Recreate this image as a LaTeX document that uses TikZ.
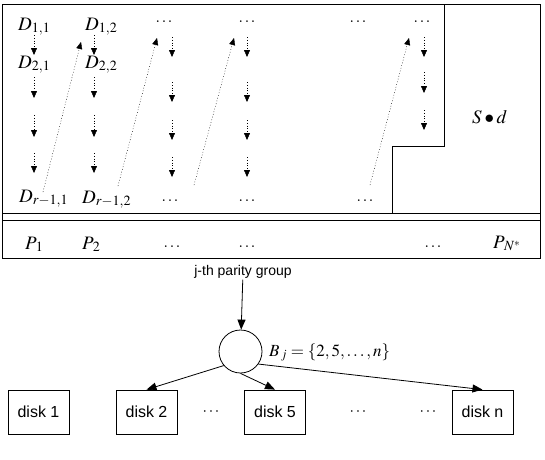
\documentclass[tikz,border=0pt]{standalone}
\usepackage{mathptmx}
\usepackage{fontspec}
\setmainfont{Liberation Serif}
\newfontfamily\arialfont{Liberation Sans}
\usetikzlibrary{arrows.meta}
\tikzset{
  lbl/.style={font=\fontsize{19}{22}\selectfont, inner sep=0pt, anchor=base west},
  dts/.style={font=\fontsize{16}{19}\selectfont, inner sep=0pt},
  dn/.style={dash pattern=on 0.8pt off 2pt, -{Triangle[width=6pt,length=7pt]}},
  disk/.style={draw, line width=0.8pt, minimum width=61pt, minimum height=44pt,
    font=\arialfont\fontsize{16}{19}\selectfont},
  arr/.style={line width=0.8pt, -{Triangle[width=8pt,length=10pt]}},
}
\begin{document}
\begin{tikzpicture}[x=1pt,y=-1pt]
\useasboundingbox (0,0) rectangle (545,459);
% frame of the parity group
\draw[line width=0.9pt] (2,4) rectangle (540,258);
\draw[line width=0.9pt] (2,213) -- (540,213);
\draw[line width=0.9pt] (2,220) -- (540,220);
\draw[line width=0.9pt] (444,4) -- (444,146) -- (392,146) -- (392,213);
% data blocks
\node[lbl] (D11) at (18,30) {$D_{1,1}$};
\node[lbl] (D12) at (85,30) {$D_{1,2}$};
\node[lbl] (D21) at (18,68) {$D_{2,1}$};
\node[lbl] (D22) at (85,68) {$D_{2,2}$};
\node[lbl] (Dr1) at (19,202) {$D_{r-1,1}$};
\node[lbl] (Dr2) at (82,203) {$D_{r-1,2}$};
\foreach \x/\y [count=\i] in {164/22,247/22,358/22,422/22,170/201,247/201,365/201,172/247,247/247,433/247}
  \node[dts] (e\i) at (\x,\y) {$\ldots$};
% parity blocks
\node[lbl] (P1) at (25,249) {$P_{\,1}$};
\node[lbl] (P2) at (82,249) {$P_{\,2}$};
\node[lbl] (PN) at (493,248) {$P_{\,N^*}$};
\node[lbl] (Sd) at (472,123) {$S\bullet d$};
% vertical dotted arrows
\foreach \x/\ya/\yb [count=\i] in {
  34/35/55, 34/77/98, 34/115/137, 34/153/173,
  94/35/55, 94/77/98, 94/115/137, 94/153/173,
  172/37/57, 172/82/102, 172/120/140, 172/157/177,
  247/37/57, 247/82/102, 247/120/140, 247/157/177,
  424/37/57, 424/72/93, 424/110/130}
{
  \coordinate (s\i) at (\x,\ya);
  \coordinate (t\i) at (\x,\yb);
  \draw[dn] (s\i) -- (t\i);
}
% diagonal dotted arrows
\foreach \xa/\ya/\xb/\yb [count=\i] in {43/192/81/42, 118/186/157/38, 194/185/234/38, 370/185/409/38}
{
  \coordinate (u\i) at (\xa,\ya);
  \coordinate (v\i) at (\xb,\yb);
  \draw[dn] (u\i) -- (v\i);
}
% parity group to disks
\node[font=\arialfont\fontsize{14}{17}\selectfont, inner sep=1pt] (grp) at (243,272) {j-th parity group};
\node[draw, circle, line width=0.8pt, minimum size=43pt, inner sep=0pt] (c) at (240.5,351.5) {};
\node[lbl, font=\fontsize{17}{20}\selectfont] (B) at (269,356) {$B_{\,j}=\{2,5,\ldots,n\}$};
\node[disk] (d1) at (38.5,412) {disk 1};
\node[disk] (d2) at (146.5,412) {disk 2};
\node[disk] (d5) at (275,412) {disk 5};
\node[disk] (dn) at (482.5,412) {disk n};
\node[dts] (f1) at (211,412) {$\cdots$};
\node[dts] (f2) at (358,412) {$\cdots$};
\node[dts] (f3) at (428,412) {$\cdots$};
\draw[arr] (grp) -- (c);
\draw[arr] (c.220) -- (d2.north);
\draw[arr] (c.270) -- (d5.north);
\draw[arr] (c.325) -- (dn.north);
\end{tikzpicture}
\end{document}
